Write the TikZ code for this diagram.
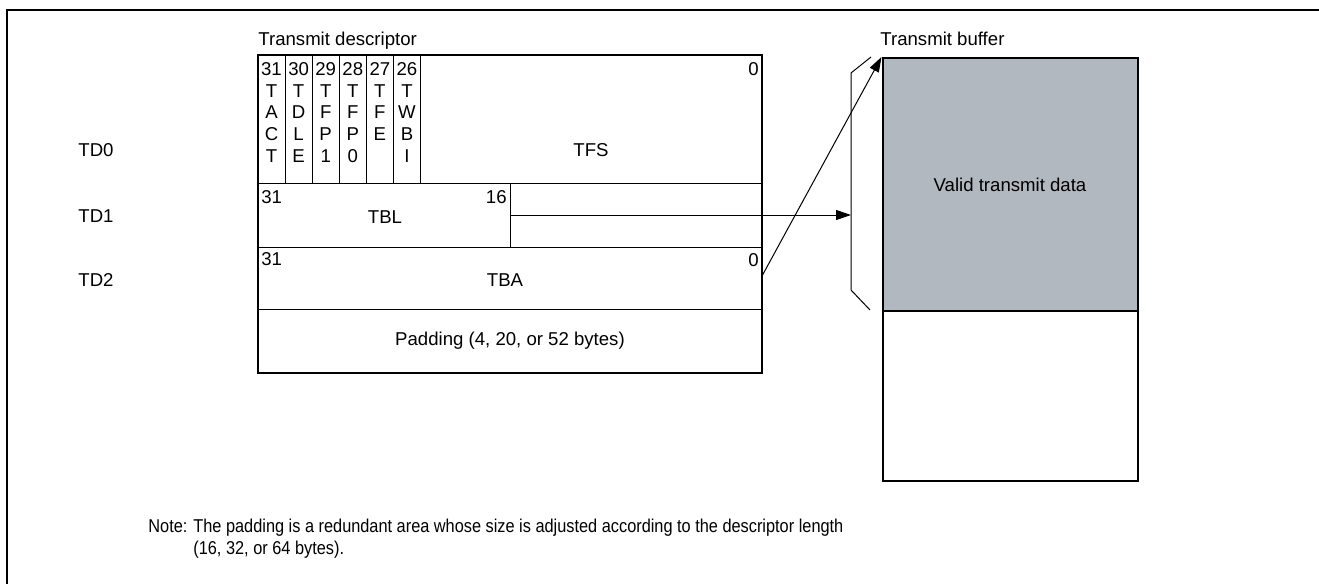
\documentclass[tikz,border=0pt]{standalone}
\usepackage{fontspec}
\usepackage{graphicx}
\setmainfont{Liberation Sans}
\usetikzlibrary{arrows.meta}
\definecolor{bufgray}{RGB}{178,184,191}
\newcommand{\narrow}[1]{\scalebox{0.878}[1]{#1}}

\begin{document}
\begin{tikzpicture}
  [x=0.5pt,y=-0.5pt,font=\fontsize{9.3}{10.85}\selectfont,
   every node/.style={inner sep=0pt},
   thinline/.style={line width=0.5pt},
   thickbox/.style={line width=1pt},
   tip/.style={-{Triangle[length=7.5pt,width=5pt]}},
   notefont/.style={font=\fontsize{9.3}{11}\selectfont}]
  \useasboundingbox (0,0) rectangle (1319,584);
  % frame
  \draw[line width=1.4pt] (7,584) -- (7,10) -- (1319,10);

  \node[anchor=base west] (tdlab) at (258,45) {Transmit descriptor};
  \node[anchor=base west] (tblab) at (880,45) {Transmit buffer};

  % descriptor
  \fill[white] (258,55) rectangle (762,373);
  \draw[thinline] (258,183) -- (762,183);
  \draw[thinline] (258,247) -- (762,247);
  \draw[thinline] (258,309) -- (762,309);
  \draw[thinline] (510,183) -- (510,247);
  \foreach \i/\txt in {0/{31\\T\\A\\C\\T},1/{30\\T\\D\\L\\E},2/{29\\T\\F\\P\\1},
                       3/{28\\T\\F\\P\\0},4/{27\\T\\F\\E},5/{26\\T\\W\\B\\I}}{
    \node[align=center,anchor=north] (b\i) at (271.5+27.1*\i,62) {\txt};
    \draw[thinline] (285+27.1*\i,55) -- (285+27.1*\i,183);
  }
  \node[anchor=north east] (z0) at (759,62) {0};
  \node (tfs) at (591,150) {TFS};
  \node (td0) at (96,150) {TD0};

  \node[anchor=north west] (h1) at (261,190) {31};
  \node[anchor=north east] (l1) at (507,190) {16};
  \node (tbl) at (385,217) {TBL};
  \node (td1) at (96,216) {TD1};

  \node[anchor=north west] (h2) at (261,252) {31};
  \node[anchor=north east] (z2) at (759,253) {0};
  \node (tba) at (505,280) {TBA};
  \node (td2) at (96,280) {TD2};

  \node (pad) at (510,341) {Padding (4, 20, or 52 bytes)};
  \draw[thickbox] (258,55) rectangle (762,373);

  % buffer
  \node[draw,thickbox,fill=bufgray,minimum width=127.5pt,minimum height=126.5pt,anchor=north west]
    (valid) at (881.5,57) {Valid transmit data};
  \node[draw,thickbox,minimum width=127.5pt,minimum height=85pt,anchor=north west]
    (free) at (881.5,310) {};

  % bracket
  \coordinate (k1) at (871,57);
  \coordinate (k2) at (851,73);
  \coordinate (k3) at (851,290);
  \coordinate (k4) at (870,310);
  \draw[thinline] (k1) -- (k2) -- (k3) -- (k4);

  % pointers
  \coordinate (p1) at (510,215);
  \coordinate (q1) at (851,215);
  \coordinate (p2) at (762,276);
  \draw[thinline,tip] (p1) -- (q1);
  \draw[thinline,tip] (p2) -- (valid.north west);

  % note
  \node[anchor=base west,notefont] (note) at (148,532) {\narrow{Note:}};
  \node[anchor=base west,notefont] (notetxt) at (193,532)
    {\narrow{\begin{tabular}[t]{@{}l@{}}The padding is a redundant area whose size is adjusted according to the descriptor length\\(16, 32, or 64 bytes).\end{tabular}}};
\end{tikzpicture}
\end{document}
